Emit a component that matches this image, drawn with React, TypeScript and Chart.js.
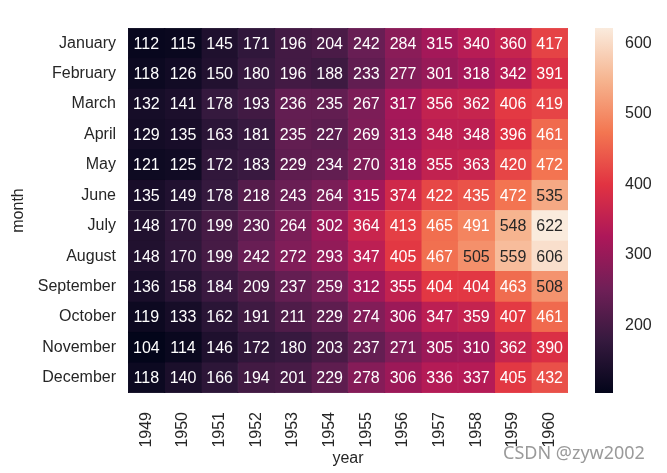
import React, { useEffect, useRef } from "react";
import { Chart, registerables } from "chart.js";

Chart.register(...registerables);

const months = [
  "January", "February", "March", "April", "May", "June",
  "July", "August", "September", "October", "November", "December",
];
const years = ["1949", "1950", "1951", "1952", "1953", "1954", "1955", "1956", "1957", "1958", "1959", "1960"];

const january = [112, 115, 145, 171, 196, 204, 242, 284, 315, 340, 360, 417];
const february = [118, 126, 150, 180, 196, 188, 233, 277, 301, 318, 342, 391];
const march = [132, 141, 178, 193, 236, 235, 267, 317, 356, 362, 406, 419];
const april = [129, 135, 163, 181, 235, 227, 269, 313, 348, 348, 396, 461];
const may = [121, 125, 172, 183, 229, 234, 270, 318, 355, 363, 420, 472];
const june = [135, 149, 178, 218, 243, 264, 315, 374, 422, 435, 472, 535];
const july = [148, 170, 199, 230, 264, 302, 364, 413, 465, 491, 548, 622];
const august = [148, 170, 199, 242, 272, 293, 347, 405, 467, 505, 559, 606];
const september = [136, 158, 184, 209, 237, 259, 312, 355, 404, 404, 463, 508];
const october = [119, 133, 162, 191, 211, 229, 274, 306, 347, 359, 407, 461];
const november = [104, 114, 146, 172, 180, 203, 237, 271, 305, 310, 362, 390];
const december = [118, 140, 166, 194, 201, 229, 278, 306, 336, 337, 405, 432];

const passengers = [january, february, march, april, may, june, july, august, september, october, november, december];

const colorbarTicks = [200, 300, 400, 500, 600];
const vmin = 104;
const vmax = 622;

// approximate "rocket" colormap stops
const rocketStops: [number, number[]][] = [
  [0.0, [3, 5, 26]],
  [0.143, [53, 25, 62]],
  [0.286, [112, 31, 87]],
  [0.429, [173, 23, 89]],
  [0.571, [225, 51, 66]],
  [0.714, [243, 118, 81]],
  [0.857, [246, 180, 143]],
  [1.0, [250, 235, 221]],
];

function rocketRGB(t: number): number[] {
  const tt = Math.max(0, Math.min(1, t));
  for (let k = 0; k < rocketStops.length - 1; k++) {
    const [a, ca] = rocketStops[k];
    const [b, cb] = rocketStops[k + 1];
    if (tt <= b) {
      const f = (tt - a) / (b - a);
      return ca.map((c, i) => Math.round(c + (cb[i] - c) * f));
    }
  }
  return rocketStops[rocketStops.length - 1][1];
}

function cmap(v: number): string {
  const [r, g, b] = rocketRGB((v - vmin) / (vmax - vmin));
  return `rgb(${r},${g},${b})`;
}

function textColor(v: number): string {
  const rgb = rocketRGB((v - vmin) / (vmax - vmin)).map((c) => {
    const s = c / 255;
    return s <= 0.03928 ? s / 12.92 : Math.pow((s + 0.055) / 1.055, 2.4);
  });
  const lum = 0.2126 * rgb[0] + 0.7152 * rgb[1] + 0.0722 * rgb[2];
  return lum > 0.385 ? "#262626" : "#ffffff";
}

const FONT = '"Liberation Sans", Arial, sans-serif';
const TEXT = "#262626";

const annotPlugin = {
  id: "annot",
  afterDatasetsDraw(chart: any) {
    const { ctx } = chart;
    const x = chart.scales.x;
    const y = chart.scales.y;
    ctx.save();
    ctx.font = `16px ${FONT}`;
    ctx.textAlign = "center";
    ctx.textBaseline = "middle";
    passengers.forEach((row, i) =>
      row.forEach((v, j) => {
        ctx.fillStyle = textColor(v);
        ctx.fillText(String(v), x.getPixelForValue(j + 0.5), y.getPixelForValue(i) + 1);
      })
    );
    ctx.restore();
  },
};

export default function App() {
  const mainRef = useRef<HTMLCanvasElement>(null);
  const cbRef = useRef<HTMLCanvasElement>(null);

  useEffect(() => {
    const main = new Chart(mainRef.current as HTMLCanvasElement, {
      type: "bar",
      data: {
        labels: months,
        datasets: years.map((yr, j) => ({
          label: yr,
          data: months.map(() => [j, j + 1]),
          backgroundColor: months.map((_, i) => cmap(passengers[i][j])),
          borderColor: months.map((_, i) => cmap(passengers[i][j])),
          borderWidth: 0.5,
          borderSkipped: false,
          barPercentage: 1,
          categoryPercentage: 1,
          grouped: false,
        })) as any,
      },
      options: {
        indexAxis: "y",
        animation: false,
        responsive: false,
        maintainAspectRatio: false,
        layout: { padding: { left: 0, top: 28, right: 99, bottom: 0 } },
        plugins: { legend: { display: false }, tooltip: { enabled: false } },
        scales: {
          x: {
            type: "linear",
            position: "bottom",
            min: 0,
            max: 12,
            grid: { display: false, drawTicks: false },
            border: { display: false },
            afterBuildTicks: (s: any) => {
              s.ticks = years.map((_, j) => ({ value: j + 0.5 }));
            },
            afterFit: (s: any) => {
              s.height = 80;
            },
            ticks: {
              autoSkip: false,
              minRotation: 90,
              maxRotation: 90,
              padding: 19,
              color: TEXT,
              font: { family: FONT, size: 16 },
              callback: (_v: any, idx: number) => years[idx],
            },
            title: {
              display: true,
              text: "year",
              color: TEXT,
              font: { family: FONT, size: 16 },
              padding: { top: 0, bottom: 5 },
            },
          },
          y: {
            type: "category",
            grid: { display: false, drawTicks: false },
            border: { display: false },
            afterFit: (s: any) => {
              s.width = 128;
            },
            ticks: {
              padding: 12,
              color: TEXT,
              font: { family: FONT, size: 16 },
            },
            title: {
              display: true,
              text: "month",
              color: TEXT,
              font: { family: FONT, size: 16 },
              padding: { top: 9, bottom: 0 },
            },
          },
        },
      } as any,
      plugins: [annotPlugin],
    });

    const cb = new Chart(cbRef.current as HTMLCanvasElement, {
      type: "bar",
      data: {
        labels: [""],
        datasets: [
          {
            data: [[vmin, vmax]] as any,
            backgroundColor: (c: any) => {
              const area = c.chart.chartArea;
              if (!area) return cmap(vmin);
              const g = c.chart.ctx.createLinearGradient(0, area.bottom, 0, area.top);
              rocketStops.forEach(([t, rgb]) => g.addColorStop(t, `rgb(${rgb[0]},${rgb[1]},${rgb[2]})`));
              return g;
            },
            borderWidth: 0,
            barPercentage: 1,
            categoryPercentage: 1,
          },
        ],
      },
      options: {
        animation: false,
        responsive: false,
        maintainAspectRatio: false,
        layout: { padding: { left: 5, top: 28, right: 0, bottom: 80 } },
        plugins: { legend: { display: false }, tooltip: { enabled: false } },
        scales: {
          x: { display: false },
          y: {
            position: "right",
            min: vmin,
            max: vmax,
            grid: { display: false, drawTicks: false },
            border: { display: false },
            afterBuildTicks: (s: any) => {
              s.ticks = colorbarTicks.map((v) => ({ value: v }));
            },
            afterFit: (s: any) => {
              s.width = 54;
            },
            ticks: {
              padding: 12,
              color: TEXT,
              font: { family: FONT, size: 16 },
            },
          },
        },
      } as any,
    });

    return () => {
      main.destroy();
      cb.destroy();
    };
  }, []);

  return (
    <div style={{ position: "fixed", left: 0, top: 0, width: 667, height: 473, background: "#ffffff" }}>
      <canvas ref={mainRef} width={667} height={473} style={{ position: "absolute", left: 0, top: 0, width: 667, height: 473 }} />
      <canvas ref={cbRef} width={77} height={473} style={{ position: "absolute", left: 590, top: 0, width: 77, height: 473 }} />
      <div
        style={{
          position: "absolute",
          left: 503,
          top: 440,
          fontFamily: '"Noto Sans", sans-serif',
          fontSize: 18,
          color: "#9a9a9a",
          whiteSpace: "nowrap",
        }}
      >
        CSDN @zyw2002
      </div>
    </div>
  );
}
